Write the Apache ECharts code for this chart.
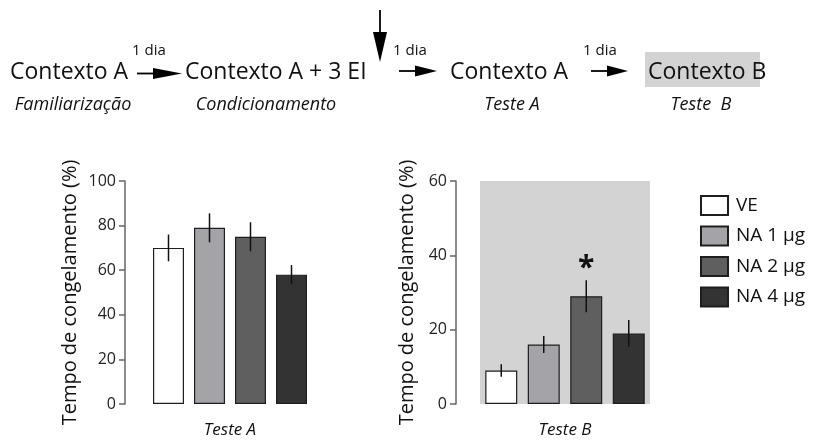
<!DOCTYPE html>
<html>
<head>
<meta charset="utf-8">
<script src="https://cdn.jsdelivr.net/npm/echarts@6/dist/echarts.min.js"></script>
<style>
html,body{margin:0;padding:0;background:#fff;}
#chart{width:815px;height:445px;}
</style>
</head>
<body>
<div id="chart"></div>
<script>
// ---- data ----
const categories = ['VE', 'NA 1 µg', 'NA 2 µg', 'NA 4 µg'];
const testeA_mean = [70, 79, 75, 58];
const testeA_sem = [6, 6.5, 6.5, 4.3];
const testeB_mean = [9, 16, 29, 19];
const testeB_sem = [1.7, 2.3, 4.3, 3.6];
const testeB_sig = ['', '', '*', ''];
const yTicksA = [0, 20, 40, 60, 80, 100];
const yTicksB = [0, 20, 40, 60];
const yAxisTitle = 'Tempo de congelamento (%)';
const panelTitles = ['Teste A', 'Teste B'];
const stageLabels = ['Contexto A', 'Contexto A + 3 EI', 'Contexto A', 'Contexto B'];
const stageNames = ['Familiarização', 'Condicionamento', 'Teste A', 'Teste  B'];
const intervalLabel = '1 dia';

// ---- styles ----
const FONT = '"Open Sans", "Liberation Sans", sans-serif';
const barColors = ['#ffffff', '#a4a3a8', '#5f5f5f', '#333333'];
const GRAY = '#d3d3d3';

const chart = echarts.init(document.getElementById('chart'), null, {renderer: 'canvas'});

function barSeries(idx, means, width) {
  return categories.map((name, i) => ({
    type: 'bar', name, xAxisIndex: idx, yAxisIndex: idx,
    barWidth: width, barGap: '-100%',
    data: means.map((v, j) => (j === i ? v : '-')),
    itemStyle: {color: barColors[i], borderColor: '#1e1e1e', borderWidth: 1.2},
    silent: true
  }));
}

function errSeries(idx, means, sems, sig) {
  return {
    type: 'custom', xAxisIndex: idx, yAxisIndex: idx, z: 10, silent: true,
    data: means.map((m, i) => [i, m, sems[i]]),
    encode: {x: 0, y: 1},
    renderItem(params, api) {
      const i = api.value(0), m = api.value(1), e = api.value(2);
      const hi = api.coord([i, m + e]);
      const lo = api.coord([i, m - e]);
      const children = [{
        type: 'line',
        shape: {x1: hi[0], y1: hi[1], x2: lo[0], y2: lo[1]},
        style: {stroke: '#111', lineWidth: 1.5}
      }];
      const s = sig ? sig[params.dataIndex] : '';
      if (s) {
        children.push({
          type: 'text',
          style: {text: s, x: hi[0], y: hi[1] - 12, textAlign: 'center', textVerticalAlign: 'middle',
                  font: 'bold 30px ' + FONT, fill: '#111'}
        });
      }
      return {type: 'group', children};
    }
  };
}

function yAxis(idx, ticks, offset, nameGap) {
  return {
    gridIndex: idx, type: 'value', min: ticks[0], max: ticks[ticks.length - 1],
    interval: ticks[1] - ticks[0], offset,
    axisLine: {show: true, lineStyle: {color: '#666', width: 1.5}},
    axisTick: {show: true, length: 6, lineStyle: {color: '#666', width: 1.5}},
    axisLabel: {fontSize: 16, color: '#222', margin: 9, fontFamily: FONT},
    splitLine: {show: false},
    name: yAxisTitle, nameLocation: 'middle', nameGap,
    nameTextStyle: {fontSize: 20, color: '#111', fontFamily: FONT, lineHeight: 24}
  };
}

function xAxis(idx, title) {
  return {
    gridIndex: idx, type: 'category', data: categories,
    axisLine: {show: false}, axisTick: {show: false}, axisLabel: {show: false},
    name: title, nameLocation: 'middle', nameGap: 16,
    nameTextStyle: {fontSize: 17, fontStyle: 'italic', color: '#111', fontFamily: FONT, lineHeight: 20}
  };
}

// ---- top diagram graphics ----
function hArrow(x0, xh, x1, y) {
  return [
    {type: 'line', shape: {x1: x0, y1: y, x2: xh + 2, y2: y}, style: {stroke: '#000', lineWidth: 1.8}},
    {type: 'polygon', shape: {points: [[xh, y - 5.5], [x1, y], [xh, y + 5.5]]}, style: {fill: '#000'}}
  ];
}
const graphics = [
  {type: 'rect', shape: {x: 645, y: 52, width: 115, height: 35}, style: {fill: GRAY}},
  ...[10, 185, 450, 648].map((x, i) => ({
    type: 'text', style: {text: stageLabels[i], x, y: 72, textAlign: 'left', textVerticalAlign: 'middle',
      font: '23px ' + FONT, fill: '#111'}
  })),
  ...[73, 266, 512, 701].map((x) => ({x})).map((p, i) => ({
    type: 'text', style: {text: stageNames[i], x: p.x, y: 105, textAlign: 'center', textVerticalAlign: 'middle',
      font: 'italic 18px ' + FONT, fill: '#111'}
  })),
  ...[132, 393, 583].map((x) => ({
    type: 'text', style: {text: intervalLabel, x, y: 51, textAlign: 'left', textVerticalAlign: 'middle',
      font: '15px ' + FONT, fill: '#111'}
  })),
  ...hArrow(137, 153, 182, 73.5),
  ...hArrow(399, 415, 437, 71),
  ...hArrow(591, 607, 628, 71),
  {type: 'line', shape: {x1: 380, y1: 10, x2: 380, y2: 34}, style: {stroke: '#000', lineWidth: 1.8}},
  {type: 'polygon', shape: {points: [[373, 32], [387, 32], [380, 62]]}, style: {fill: '#000'}}
];

const option = {
  animation: false,
  textStyle: {fontFamily: FONT},
  grid: [
    {left: 148, width: 164, top: 181, height: 226, show: false},
    {left: 480, width: 170, top: 181, height: 232, show: true, backgroundColor: GRAY, borderWidth: 0}
  ],
  xAxis: [xAxis(0, panelTitles[0]), xAxis(1, panelTitles[1])],
  yAxis: [yAxis(0, yTicksA, 23, 43), yAxis(1, yTicksB, 24, 37)],
  legend: {
    orient: 'vertical', left: 695, top: 190, itemWidth: 27, itemHeight: 19, itemGap: 9.5,
    icon: 'rect', selectedMode: false, data: categories,
    textStyle: {fontSize: 19, color: '#111', fontFamily: FONT, padding: [0, 0, 0, 3]}
  },
  series: [
    ...barSeries(0, testeA_mean, 31),
    errSeries(0, testeA_mean, testeA_sem, null),
    ...barSeries(1, testeB_mean, 32),
    errSeries(1, testeB_mean, testeB_sem, testeB_sig)
  ],
  graphic: graphics
};
chart.setOption(option);
</script>
</body>
</html>
